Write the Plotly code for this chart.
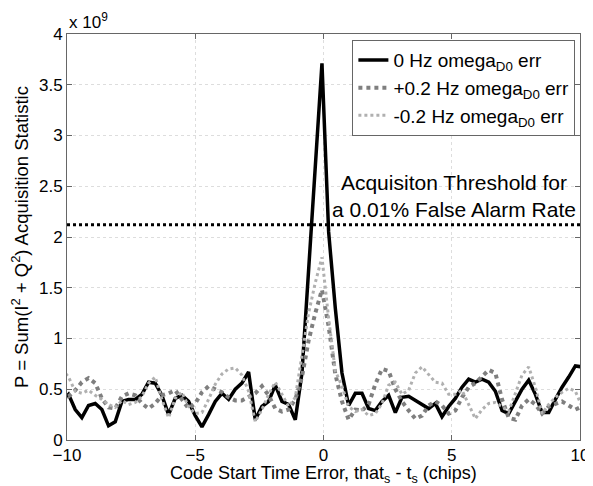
import plotly.graph_objects as go

# code start time error samples (chips)
x_chips = [-10.20, -9.94, -9.68, -9.42, -9.16, -8.90, -8.64, -8.38, -8.12, -7.86,
           -7.60, -7.34, -7.08, -6.82, -6.56, -6.30, -6.04, -5.78, -5.52, -5.26,
           -5.00, -4.74, -4.48, -4.22, -3.96, -3.70, -3.44, -3.18, -2.92, -2.66,
           -2.40, -2.14, -1.88, -1.62, -1.36, -1.10, -0.84, -0.58, -0.32, -0.06,
           0.20, 0.46, 0.72, 0.98, 1.24, 1.50, 1.76, 2.02, 2.28, 2.54,
           2.80, 3.06, 3.32, 3.58, 3.84, 4.10, 4.36, 4.62, 4.88, 5.14,
           5.40, 5.66, 5.92, 6.18, 6.44, 6.70, 6.96, 7.22, 7.48, 7.74,
           8.00, 8.26, 8.52, 8.78, 9.04, 9.30, 9.56, 9.82, 10.08]

# acquisition statistic, units of 1e9
p_0hz = [0.38, 0.45, 0.30, 0.22, 0.34, 0.36, 0.30, 0.14, 0.18, 0.38,
         0.40, 0.40, 0.45, 0.57, 0.56, 0.44, 0.25, 0.41, 0.44, 0.38,
         0.24, 0.13, 0.25, 0.38, 0.46, 0.40, 0.50, 0.56, 0.67, 0.20,
         0.33, 0.38, 0.54, 0.38, 0.35, 0.20, 0.66, 1.68, 2.70, 3.71,
         2.05, 1.30, 0.66, 0.34, 0.46, 0.46, 0.31, 0.29, 0.38, 0.44,
         0.27, 0.42, 0.43, 0.39, 0.35, 0.31, 0.36, 0.23, 0.33, 0.41,
         0.52, 0.60, 0.57, 0.60, 0.57, 0.48, 0.29, 0.26, 0.38, 0.50,
         0.59, 0.45, 0.27, 0.27, 0.40, 0.52, 0.62, 0.73, 0.72]

p_plus = [0.48, 0.43, 0.49, 0.57, 0.61, 0.56, 0.41, 0.32, 0.31, 0.43,
          0.46, 0.44, 0.36, 0.31, 0.36, 0.44, 0.46, 0.49, 0.40, 0.31,
          0.36, 0.47, 0.53, 0.50, 0.47, 0.42, 0.39, 0.39, 0.42, 0.46,
          0.53, 0.44, 0.31, 0.28, 0.30, 0.40, 0.62, 0.98, 1.25, 1.48,
          1.12, 0.65, 0.38, 0.20, 0.30, 0.29, 0.35, 0.55, 0.70, 0.68,
          0.50, 0.38, 0.29, 0.21, 0.24, 0.34, 0.38, 0.34, 0.26, 0.29,
          0.42, 0.52, 0.56, 0.63, 0.69, 0.66, 0.40, 0.22, 0.20, 0.34,
          0.40, 0.35, 0.26, 0.33, 0.36, 0.38, 0.34, 0.30, 0.33]

p_minus = [0.70, 0.62, 0.48, 0.46, 0.49, 0.44, 0.40, 0.35, 0.32, 0.39,
           0.35, 0.37, 0.43, 0.56, 0.62, 0.40, 0.22, 0.41, 0.47, 0.33,
           0.26, 0.27, 0.40, 0.55, 0.65, 0.70, 0.71, 0.64, 0.48, 0.18,
           0.30, 0.45, 0.57, 0.45, 0.33, 0.42, 0.85, 1.25, 1.55, 1.80,
           1.20, 0.68, 0.53, 0.33, 0.28, 0.30, 0.24, 0.26, 0.36, 0.54,
           0.57, 0.45, 0.49, 0.66, 0.72, 0.64, 0.57, 0.56, 0.45, 0.45,
           0.49, 0.35, 0.21, 0.30, 0.36, 0.37, 0.33, 0.28, 0.46, 0.64,
           0.72, 0.52, 0.26, 0.35, 0.42, 0.47, 0.51, 0.48, 0.33]

threshold = 2.12

x_ticks = [-10, -5, 0, 5, 10]
y_ticks = [0, 0.5, 1, 1.5, 2, 2.5, 3, 3.5, 4]
y_labels = ['0', '0.5', '1', '1.5', '2', '2.5', '3', '3.5', '4']

font = 'Liberation Sans, Arial, Helvetica, sans-serif'

fig = go.Figure()

fig.add_trace(go.Scatter(x=x_chips, y=p_0hz, mode='lines',
                         name='0 Hz omega<sub>D0</sub> err',
                         line=dict(color='black', width=3.5)))
fig.add_trace(go.Scatter(x=x_chips, y=p_plus, mode='lines',
                         name='+0.2 Hz omega<sub>D0</sub> err',
                         line=dict(color='#7f7f7f', width=4, dash='dot')))
fig.add_trace(go.Scatter(x=x_chips, y=p_minus, mode='lines',
                         name='-0.2 Hz omega<sub>D0</sub> err',
                         line=dict(color='#b0b0b0', width=3, dash='dot')))

# threshold line + label
fig.add_hline(y=threshold, line=dict(color='black', width=3, dash='dot'))
fig.add_annotation(x=0.996, y=threshold, xref='paper', yref='y',
                   text='Acquisiton Threshold for<br>a 0.01% False Alarm Rate',
                   showarrow=False, xanchor='right', yanchor='bottom', align='center',
                   yshift=2, font=dict(size=21, color='black', family=font))

# exponent label above the y axis
fig.add_annotation(x=0, y=1, xref='paper', yref='paper', text='x 10<sup>9</sup>',
                   showarrow=False, xanchor='left', yanchor='bottom', yshift=0,
                   font=dict(size=17, color='black', family=font))

# x axis title, set just under the tick labels
fig.add_annotation(x=0.5, y=0, xref='paper', yref='paper',
                   text='Code Start Time Error, that<sub>s</sub> - t<sub>s</sub> (chips)',
                   showarrow=False, xanchor='center', yanchor='top', yshift=-22,
                   borderpad=0, font=dict(size=18, color='black', family=font))

axis_style = dict(showline=True, linecolor='#666666', linewidth=1, mirror='ticks',
                  ticks='inside', ticklen=5, tickcolor='#666666',
                  showgrid=True, gridcolor='#dddddd', griddash='dot', gridwidth=1,
                  zeroline=False, automargin=False,
                  tickfont=dict(size=17, color='black', family=font))

fig.update_xaxes(range=[-10, 10], tickvals=x_ticks, **axis_style)
fig.update_yaxes(range=[0, 4], tickvals=y_ticks, ticktext=y_labels,
                 title=dict(text='P = Sum(I<sup>2</sup> + Q<sup>2</sup>) Acquisition Statistic',
                            font=dict(size=18.5, color='black', family=font), standoff=6),
                 **axis_style)

# page adds an 8px body margin, so the figure is a little smaller than the window
fig.update_layout(
    width=585, height=478,
    margin=dict(l=59, r=13, t=26, b=46, autoexpand=False),
    paper_bgcolor='white', plot_bgcolor='white',
    font=dict(family=font, color='black'),
    legend=dict(x=0.991, y=0.985, xanchor='right', yanchor='top',
                bgcolor='white', bordercolor='#666666', borderwidth=1,
                font=dict(size=19, color='black', family=font),
                itemwidth=30, tracegroupgap=0),
)

fig.write_html("out.html")
